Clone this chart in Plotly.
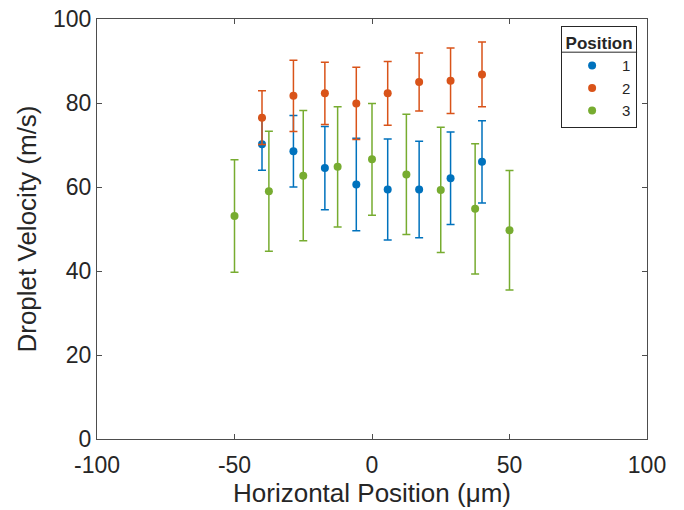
import plotly.graph_objects as go

# Data
x_pos12 = [-40, -28.57, -17.14, -5.71, 5.71, 17.14, 28.57, 40]
vel_1 = [70.2, 68.5, 64.5, 60.6, 59.4, 59.4, 62.1, 66.0]
err_1 = [6.2, 8.5, 9.9, 11.0, 12.0, 11.5, 11.0, 9.8]
vel_2 = [76.5, 81.7, 82.3, 79.9, 82.3, 85.0, 85.3, 86.8]
err_2 = [6.4, 8.5, 7.4, 8.6, 7.6, 6.9, 7.8, 7.7]
x_pos3 = [-50, -37.5, -25, -12.5, 0, 12.5, 25, 37.5, 50]
vel_3 = [53.1, 59.0, 62.7, 64.8, 66.6, 63.0, 59.3, 54.8, 49.7]
err_3 = [13.4, 14.3, 15.5, 14.3, 13.3, 14.3, 14.9, 15.5, 14.2]

x_ticks = [-100, -50, 0, 50, 100]
x_ticklabels = ["-100", "-50", "0", "50", "100"]
y_ticks = [0, 20, 40, 60, 80, 100]

names = ["1", "2", "3"]
colors = ["#0072BD", "#D95319", "#77AC30"]
series = [(x_pos12, vel_1, err_1), (x_pos12, vel_2, err_2), (x_pos3, vel_3, err_3)]

fig = go.Figure()
for (xs, ys, es), nm, c in zip(series, names, colors):
    fig.add_trace(go.Scatter(
        x=xs, y=ys, name=nm, mode="markers",
        marker=dict(color=c, size=8),
        error_y=dict(type="data", array=es, visible=True, color=c, thickness=1.5, width=4),
    ))

axis_color = "#4d4d4d"
font_fam = "Liberation Sans, Arial, Helvetica, sans-serif"

# legend title separator line (paper coordinates)
fig.add_shape(type="line", xref="paper", yref="paper",
              x0=0.844, x1=0.982, y0=0.921, y1=0.921,
              line=dict(color="#262626", width=1))

fig.update_layout(
    width=684, height=510,
    margin=dict(l=97, r=37, t=19, b=71),
    paper_bgcolor="white", plot_bgcolor="white",
    font=dict(family=font_fam, color="#262626"),
    showlegend=True,
    legend=dict(
        x=0.982, y=0.983, xanchor="right", yanchor="top",
        bordercolor="#262626", borderwidth=1, bgcolor="rgba(0,0,0,0)",
        font=dict(size=15, family=font_fam, color="#262626"),
        title=dict(text="<b>Position</b>", side="top center",
                   font=dict(size=17, family=font_fam, color="#262626")),
        tracegroupgap=0, itemwidth=50,
    ),
    xaxis=dict(
        range=[-100, 100], tickvals=x_ticks, ticktext=x_ticklabels,
        ticks="inside", ticklen=5, tickcolor=axis_color,
        showline=True, linecolor=axis_color, linewidth=1, mirror="ticks",
        showgrid=False, zeroline=False, automargin=False,
        tickfont=dict(size=23), ticklabelstandoff=5,
        title=dict(text="Horizontal Position (μm)", font=dict(size=26), standoff=7),
    ),
    yaxis=dict(
        range=[0, 100], tickvals=y_ticks,
        ticks="inside", ticklen=5, tickcolor=axis_color,
        showline=True, linecolor=axis_color, linewidth=1, mirror="ticks",
        showgrid=False, zeroline=False, automargin=False,
        tickfont=dict(size=23),
        title=dict(text="Droplet Velocity (m/s)", font=dict(size=26), standoff=8),
    ),
)

fig.write_html("out.html", config={"displayModeBar": False},
               post_script="document.body.style.margin='0';")
